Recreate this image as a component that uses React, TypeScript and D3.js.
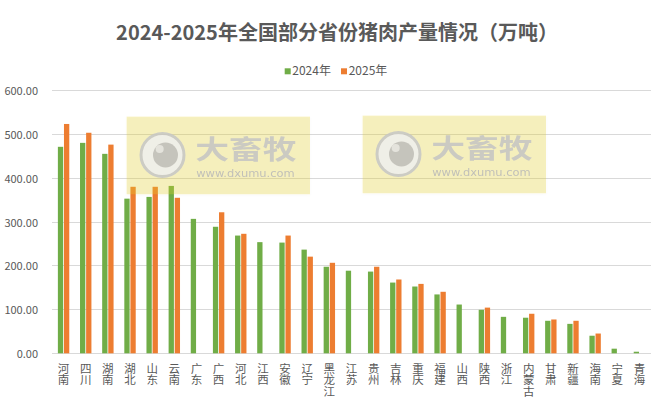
import React from "react";
import * as d3 from "d3";

const categories = ["河南","四川","湖南","湖北","山东","云南","广东","广西","河北","江西","安徽","辽宁","黑龙江","江苏","贵州","吉林","重庆","福建","山西","陕西","浙江","内蒙古","甘肃","新疆","海南","宁夏","青海"];
const values2024: (number | null)[] = [470, 479, 454, 352, 356, 381, 306, 288, 268, 253, 252, 236, 197, 188, 186, 161, 152, 134, 111, 99, 83, 81, 74, 67, 40, 10.5, 3.6];
const values2025: (number | null)[] = [522, 502, 475, 379, 379, 354, null, 321, 272, null, 268, 220, 206, null, 197, 168, 158, 140, null, 104, null, 90, 77, 74, 45, null, null];
const yTicks = [0, 100, 200, 300, 400, 500, 600];
const seriesNames = ["2024年", "2025年"];

const W = 669, H = 402;
const FONT = "'Noto Sans CJK SC', 'Noto Sans', sans-serif";
const GREEN = "#70ad47", ORANGE = "#ed7d31", TEXT = "#595959", GRID = "#d9d9d9";

function Watermark({ x, y }: { x: number; y: number }) {
  return (
    <g transform={`translate(${x},${y})`}>
      <rect x={0} y={0} width={183.3} height={77.5} fill="rgba(228,208,40,0.3)" filter="url(#wmShadow)" />
      <g opacity={0.85}>
        <circle cx={35.8} cy={38.3} r={21.5} fill="#efefef" stroke="#c6c6c6" strokeWidth={3} />
        <circle cx={38.8} cy={38.3} r={12.5} fill="#bdbdbd" />
        <circle cx={33} cy={32.3} r={4} fill="#e2e2e2" />
        <text x={68.5} y={42.5} fontFamily={FONT} fontWeight={700} fontSize={26} fill="#c4c4c4"
          textLength={101.5} lengthAdjust="spacingAndGlyphs">大畜牧</text>
        <text x={69.5} y={60} fontFamily="'DejaVu Sans', sans-serif" fontSize={10} fill="#b8b8b8"
          textLength={98.5} lengthAdjust="spacingAndGlyphs">www.dxumu.com</text>
      </g>
    </g>
  );
}

export default function App() {
  const x = d3.scaleBand<string>().domain(categories).range([52.5, 650.5]).padding(0);
  const y = d3.scaleLinear().domain([0, 600]).range([353.3, 89.7]);
  const bw = 5.3, gap = 0.4;
  const fmt = d3.format(".2f");

  return (
    <svg width={W} height={H} style={{ display: "block", position: "absolute", left: 0, top: 0 }}>
      <defs>
        <filter id="wmShadow" x="-10%" y="-10%" width="120%" height="130%">
          <feDropShadow dx={0} dy={1} stdDeviation={1.5} floodColor="#000" floodOpacity={0.08} />
        </filter>
      </defs>
      <rect width={W} height={H} fill="#fff" />
      <text x={337} y={40} textAnchor="middle" fontFamily={FONT} fontWeight={700} fontSize={20} fill={TEXT}>
        2024-2025年全国部分省份猪肉产量情况（万吨）
      </text>
      {/* legend */}
      <g fontFamily={FONT} fontSize={12} fill={TEXT}>
        <rect x={284.7} y={68.3} width={6} height={6} fill={GREEN} />
        <text x={292.3} y={75.3}>{seriesNames[0]}</text>
        <rect x={341} y={68.3} width={6} height={6} fill={ORANGE} />
        <text x={348.7} y={75.3}>{seriesNames[1]}</text>
      </g>
      {/* grid */}
      {yTicks.map((t) => (
        <g key={t}>
          <line x1={52} x2={651} y1={Math.round(y(t)) + 0.5} y2={Math.round(y(t)) + 0.5} stroke={GRID} strokeWidth={1} />
          <text x={38} y={y(t)} textAnchor="end" dominantBaseline="central" fontFamily={FONT} fontSize={11} fill={TEXT}>
            {fmt(t)}
          </text>
        </g>
      ))}
      {/* bars */}
      {categories.map((c, i) => {
        const cx = (x(c) as number) + x.bandwidth() / 2;
        const a = values2024[i], b = values2025[i];
        return (
          <g key={c}>
            {a != null && (
              <rect x={cx - gap - bw} y={y(a)} width={bw} height={y(0) - y(a)} fill={GREEN} />
            )}
            {b != null && (
              <rect x={cx + gap} y={y(b)} width={bw} height={y(0) - y(b)} fill={ORANGE} />
            )}
          </g>
        );
      })}
      {/* x labels vertical, one character per line */}
      {categories.map((c) => {
        const cx = (x(c) as number) + x.bandwidth() / 2;
        return (
          <text key={c} fontFamily={FONT} fontSize={11.5} fill={TEXT} textAnchor="middle">
            {Array.from(c).map((ch, j) => (
              <tspan key={j} x={cx} y={367.5 + j * 11.7} dominantBaseline="central">{ch}</tspan>
            ))}
          </text>
        );
      })}
      <Watermark x={126.7} y={116.7} />
      <Watermark x={362.7} y={115.7} />
    </svg>
  );
}
